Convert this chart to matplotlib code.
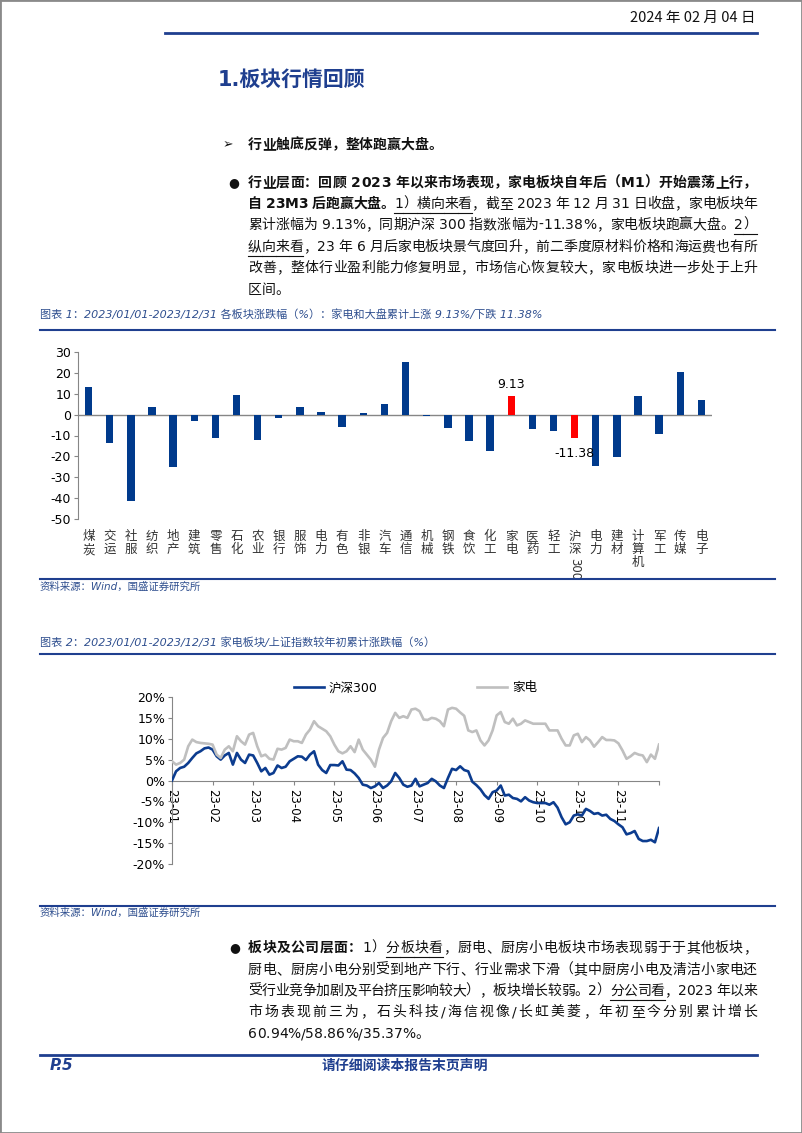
# Page 5 of the appliance sector report: sector returns bar chart + 2023 cumulative line chart
import matplotlib
matplotlib.use('Agg')
import matplotlib.pyplot as plt
from matplotlib.font_manager import FontProperties
from matplotlib.lines import Line2D
from matplotlib.patches import Rectangle

# ---- chart 1: 2023 sector returns (%) ----
sectors = ['煤炭', '交运', '社服', '纺织', '地产', '建筑', '零售', '石化', '农业', '银行',
           '服饰', '电力', '有色', '非银', '汽车', '通信', '机械', '钢铁', '食饮', '化工',
           '家电', '医药', '轻工', '沪深300', '电力', '建材', '计算机', '军工', '传媒', '电子']
sectorChange = [13.4, -13.6, -41.3, 3.5, -25.0, -3.2, -11.2, 9.4, -12.0, -1.6,
                3.5, 1.1, -5.9, 0.6, 5.1, 25.1, -0.5, -6.4, -12.6, -17.6,
                9.13, -6.9, -7.7, -11.38, -24.8, -20.5, 9.1, -9.3, 20.2, 7.0]
highlighted = ['家电', '沪深300']

# ---- chart 2: cumulative change since 2023-01-01 (%), every 2nd trading day ----
tradeDay = list(range(0, 241, 2))
hs300 = [
    0.0, 2.2, 3.0, 3.3, 4.2, 5.4, 6.5, 7.0, 7.7, 7.9,
    7.4, 5.8, 5.0, 6.0, 6.6, 3.8, 6.6, 5.0, 4.2, 6.2,
    6.0, 4.2, 2.2, 3.0, 1.4, 1.8, 3.6, 3.0, 3.3, 4.6,
    5.2, 5.8, 5.7, 4.9, 6.2, 7.0, 3.8, 2.5, 1.8, 3.7,
    3.7, 3.6, 4.6, 2.6, 2.5, 1.7, 0.6, -1.0, -1.2, -1.8,
    -1.4, -0.6, -1.8, -1.2, -0.2, 1.8, 0.6, -1.0, -1.5, -1.2,
    0.4, -1.4, -1.0, -0.6, 0.4, -0.2, -1.2, -1.8, 0.6, 2.8,
    2.5, 3.4, 2.5, 2.2, -0.3, -1.1, -2.1, -3.5, -4.4, -2.8,
    -2.4, -1.2, -3.6, -3.4, -4.2, -4.4, -5.0, -4.0, -4.8, -5.2,
    -5.4, -5.4, -5.4, -5.8, -5.2, -6.5, -8.8, -10.5, -10.0, -8.4,
    -8.1, -8.4, -6.8, -7.3, -8.0, -7.8, -8.4, -8.2, -9.2, -9.7,
    -10.5, -11.2, -12.9, -12.6, -12.1, -14.0, -14.5, -14.5, -14.2, -14.8,
    -11.4]
appliance = [
    4.6, 3.8, 4.2, 5.0, 8.2, 9.8, 9.2, 9.0, 8.9, 8.8,
    8.6, 6.2, 5.4, 7.4, 8.2, 7.0, 10.6, 9.4, 8.6, 11.0,
    11.4, 8.2, 5.8, 6.2, 5.2, 5.0, 7.6, 7.4, 7.8, 9.8,
    9.4, 9.4, 9.0, 11.0, 12.2, 14.2, 13.0, 12.4, 11.8, 10.6,
    8.6, 7.0, 6.5, 7.0, 8.2, 6.8, 9.8, 7.4, 6.2, 5.0,
    3.3, 7.4, 10.2, 11.4, 14.2, 16.2, 15.0, 15.4, 15.0, 17.0,
    17.2, 16.6, 14.6, 14.5, 15.0, 14.8, 14.2, 13.0, 17.0, 17.4,
    17.2, 16.3, 15.5, 12.0, 11.6, 12.0, 9.6, 8.4, 9.6, 12.0,
    15.6, 16.4, 14.0, 13.6, 14.8, 13.2, 13.6, 14.4, 14.0, 13.6,
    13.6, 13.6, 13.6, 12.0, 12.0, 12.0, 10.0, 8.4, 8.4, 10.8,
    11.2, 9.2, 10.4, 9.6, 8.1, 9.2, 10.4, 9.7, 9.7, 9.6,
    8.9, 7.2, 5.2, 5.8, 6.6, 6.2, 6.0, 4.4, 6.2, 5.2,
    8.6]
monthTicks = list(range(0, 241, 20))
monthLabels = ['23-01', '23-02', '23-03', '23-04', '23-05', '23-06', '23-07',
               '23-08', '23-09', '23-10', '23-10', '23-11', '']
yTicks2 = [20, 15, 10, 5, 0, -5, -10, -15, -20]

W, H = 802, 1133
FONT = ['DejaVu Sans', 'Noto Sans CJK SC']
RULE = '#1F3F8F'
CAPTION = '#2F4F8F'
TEXT = '#111111'
BAR = '#003A8C'
BLUE = '#0C3C8F'
GRAY = '#BFBFBF'
AXIS = '#868686'

plt.rcParams['font.family'] = FONT
plt.rcParams['axes.unicode_minus'] = False

fig = plt.figure(figsize=(W / 100, H / 100), dpi=100)
renderer = fig.canvas.get_renderer()


def fx(x):
    return x / W


def fy(y):
    return 1 - y / H


def pageText(x, y, s, **kw):
    kw.setdefault('va', 'center')
    kw.setdefault('color', TEXT)
    return fig.text(fx(x), fy(y), s, **kw)


def hRule(x0, x1, y, lw=1.5, color=RULE):
    fig.add_artist(Line2D([fx(x0), fx(x1)], [fy(y), fy(y)], lw=lw, color=color))


def drawRuns(runs, x0, y, x1=None, size=10):
    # runs: (text, style) where style may contain 'b' (bold) and 'u' (underline)
    pieces = []
    for text, style in runs:
        fp = FontProperties(family=FONT, size=size, weight='bold' if 'b' in style else 'normal')
        for ch in text:
            if ch == ' ':
                w = size * 0.3 * 100 / 72
            else:
                w = renderer.get_text_width_height_descent(ch, fp, ismath=False)[0]
            pieces.append((ch, fp, 'u' in style, w))
    total = sum(p[3] for p in pieces)
    gap = 0 if x1 is None else (x1 - x0 - total) / (len(pieces) - 1)
    x = x0
    for ch, fp, ul, w in pieces:
        fig.text(fx(x), fy(y), ch, fontproperties=fp, va='center', ha='left', color=TEXT)
        if ul:
            fig.add_artist(Line2D([fx(x), fx(x + w + gap)], [fy(y + 9)] * 2, lw=0.8, color=TEXT))
        x += w + gap


# page frame, header
fig.add_artist(Rectangle((0, 0), 1, 1, transform=fig.transFigure, fill=False, ec='#8a8a8a', lw=2))
pageText(755, 18, '2024 年 02 月 04 日', ha='right', fontsize=10.5,
         family=['Noto Sans CJK SC', 'DejaVu Sans'])
hRule(165, 757, 33, lw=2)
pageText(218, 80, '1.板块行情回顾', fontsize=15, weight='bold', color=RULE)

# first section text
pageText(223, 145, '➢', fontsize=9)
drawRuns([('行业触底反弹，整体跑赢大盘。', 'b')], 248, 145)
pageText(228, 183, '●', fontsize=9)
paraLeft, paraRight = 248, 757
drawRuns([('行业层面：回顾 2023 年以来市场表现，家电板块自年后（M1）开始震荡上行，', 'b')],
         paraLeft, 183, paraRight)
drawRuns([('自 23M3 后跑赢大盘。', 'b'), ('1）横向来看', 'u'),
          ('，截至 2023 年 12 月 31 日收盘，家电板块年', '')], paraLeft, 204, paraRight)
drawRuns([('累计涨幅为 9.13%，同期沪深 300 指数涨幅为-11.38%，家电板块跑赢大盘。', ''),
          ('2）', 'u')], paraLeft, 225, paraRight)
drawRuns([('纵向来看', 'u'), ('，23 年 6 月后家电板块景气度回升，前二季度原材料价格和海运费也有所', '')],
         paraLeft, 247, paraRight)
drawRuns([('改善，整体行业盈利能力修复明显，市场信心恢复较大，家电板块进一步处于上升', '')],
         paraLeft, 268, paraRight)
drawRuns([('区间。', '')], paraLeft, 290)

# ---- chart 1 ----
pageText(40, 314, '图表 1：2023/01/01-2023/12/31 各板块涨跌幅（%）：家电和大盘累计上涨 9.13%/下跌 11.38%',
         fontsize=8, style='italic', color=CAPTION)
hRule(40, 775, 330)

ax1 = fig.add_axes([fx(78), fy(519), (712 - 78) / W, (519 - 352) / H])
pos = list(range(len(sectors)))
colors = ['#FF0000' if s in highlighted else BAR for s in sectors]
ax1.bar(pos, sectorChange, width=0.35, color=colors, zorder=3)
ax1.axhline(0, color=AXIS, lw=1, zorder=2)
ax1.set_xlim(-0.5, len(sectors) - 0.5)
ax1.set_ylim(-50, 30)
ax1.set_yticks(range(-50, 31, 10))
for side in ['top', 'right', 'bottom']:
    ax1.spines[side].set_visible(False)
ax1.spines['left'].set_color(AXIS)
ax1.tick_params(axis='y', direction='out', length=3, color=AXIS, labelsize=9, pad=2)
tickNames = ['沪\n深' if s == '沪深300' else '\n'.join(s) for s in sectors]
ax1.set_xticks(pos)
ax1.set_xticklabels(tickNames, fontsize=9, linespacing=1.0, color='#333333',
                    family=['Noto Sans CJK SC'])
ax1.tick_params(axis='x', length=0, pad=8)
for i, s in enumerate(sectors):
    if s == '沪深300':
        ax1.annotate('300', xy=(i, 0), xycoords=('data', 'axes fraction'), xytext=(0, -28),
                     textcoords='offset points', rotation=270, ha='center', va='top',
                     fontsize=8.5, color='#333333')
    if s in highlighted:
        v = sectorChange[i]
        ax1.annotate('%.2f' % v, xy=(i, v), xytext=(0, 3 if v > 0 else -6),
                     textcoords='offset points', ha='center',
                     va='bottom' if v > 0 else 'top', fontsize=9)

hRule(40, 775, 579)
pageText(40, 587, '资料来源：Wind，国盛证券研究所', fontsize=7.5, style='italic', color=CAPTION)

# ---- chart 2 ----
pageText(40, 642, '图表 2：2023/01/01-2023/12/31 家电板块/上证指数较年初累计涨跌幅（%）',
         fontsize=8, style='italic', color=CAPTION)
hRule(40, 775, 654)

ax2 = fig.add_axes([fx(172), fy(864), (659 - 172) / W, (864 - 697) / H])
ax2.plot(tradeDay, hs300, color=BLUE, lw=1.9, label='沪深300', zorder=3)
ax2.plot(tradeDay, appliance, color=GRAY, lw=1.9, label='家电', zorder=3)
# x axis crosses at 0, set this before styling the ticks (it resets them)
ax2.spines['bottom'].set_position(('data', 0))
ax2.set_xlim(0, 240)
ax2.set_ylim(-20, 20)
ax2.set_yticks(yTicks2)
ax2.set_yticklabels(['%d%%' % t for t in yTicks2])
ax2.set_xticks(monthTicks)
ax2.set_xticklabels(monthLabels, rotation=270, fontsize=8.5)
for side in ['top', 'right']:
    ax2.spines[side].set_visible(False)
for side in ['left', 'bottom']:
    ax2.spines[side].set_color(AXIS)
ax2.tick_params(axis='both', direction='out', length=3, color=AXIS)
ax2.tick_params(axis='y', labelsize=9, pad=2)
ax2.tick_params(axis='x', pad=3)
ax2.legend(loc='center', bbox_to_anchor=(0.5, 1.054), ncol=2, frameon=False, fontsize=9,
           handlelength=2.4, handletextpad=0.4, columnspacing=8)

hRule(40, 775, 906)
pageText(40, 913, '资料来源：Wind，国盛证券研究所', fontsize=7.5, style='italic', color=CAPTION)

# second section text
pageText(229, 948, '●', fontsize=9)
drawRuns([('板块及公司层面：', 'b'), ('1）', ''), ('分板块看', 'u'),
          ('，厨电、厨房小电板块市场表现弱于于其他板块，', '')], paraLeft, 948, paraRight)
drawRuns([('厨电、厨房小电分别受到地产下行、行业需求下滑（其中厨房小电及清洁小家电还', '')],
         paraLeft, 970, paraRight)
drawRuns([('受行业竞争加剧及平台挤压影响较大），板块增长较弱。2）', ''), ('分公司看', 'u'),
          ('，2023 年以来', '')], paraLeft, 991, paraRight)
drawRuns([('市场表现前三为，石头科技/海信视像/长虹美菱，年初至今分别累计增长', '')],
         paraLeft, 1012, paraRight)
drawRuns([('60.94%/58.86%/35.37%。', '')], paraLeft, 1034)

# footer
hRule(40, 757, 1055, lw=2)
pageText(50, 1066, 'P.5', fontsize=11, weight='bold', style='italic', color=RULE)
pageText(405, 1066, '请仔细阅读本报告末页声明', ha='center', fontsize=10, weight='bold', color=RULE)

fig.savefig('out.png', dpi=100)
